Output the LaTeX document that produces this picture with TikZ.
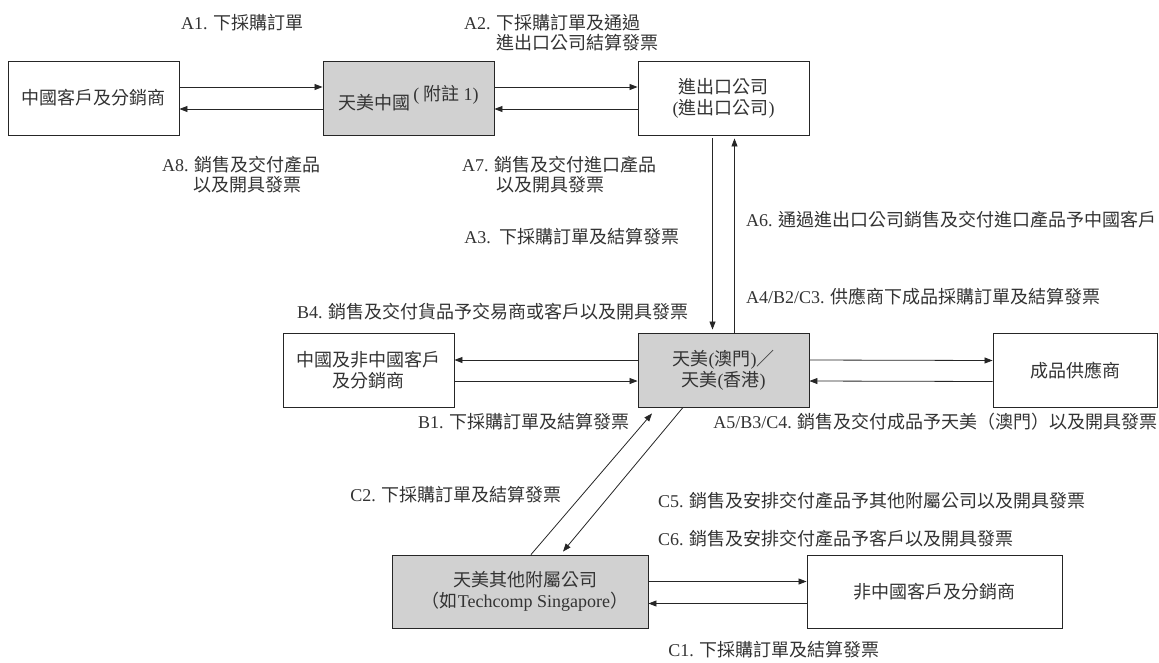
\documentclass[tikz,border=0pt]{standalone}
\usepackage{fontspec}
\setmainfont{Liberation Serif}
\newfontfamily\cjkf{Noto Sans CJK TC}
\usetikzlibrary{arrows.meta}
\newcommand\zh[1]{{\cjkf #1}}
\begin{document}
\begin{tikzpicture}[x=1pt,y=-1pt,
  every node/.style={font=\fontsize{18}{21}\selectfont, text=black!80},
  box/.style={draw=black!85, line width=0.9pt, minimum width=171pt, minimum height=74pt, inner sep=0pt, align=center},
  gbox/.style={box, fill=black!18},
  lab/.style={inner sep=0pt},
  arr/.style={draw=black!85, line width=0.8pt, -{Triangle[length=8pt,width=6pt]}}]
\useasboundingbox (0,0) rectangle (1159,662);
\fill[white] (0,0) rectangle (1159,662);
% boxes
\node[box] (cn) at (93.5,98) {\zh{中國客戶及分銷商}};
\node[gbox] (tc) at (408.5,98) {\zh{天美中國}\,\raisebox{9pt}{(\zh{ 附註 }1)}};
\node[box] (ie) at (723.5,98) {\zh{進出口公司}\\(\zh{進出口公司})};
\node[box] (cc) at (368.5,370) {\zh{中國及非中國客戶}\\\zh{及分銷商}};
\node[gbox] (tm) at (723.5,370) {\zh{天美}(\zh{澳門})\zh{／}\\\zh{天美}(\zh{香港})};
\node[box, minimum width=164pt] (sp) at (1075,370.5) {\zh{成品供應商}};
\node[gbox, minimum width=256pt, minimum height=73pt] (ot) at (520,591.5) {\hspace*{10pt}\zh{天美其他附屬公司}\\\hspace*{10pt}\zh{（如}Techcomp Singapore\zh{）}};
\node[box, minimum width=255pt, minimum height=73pt] (nc) at (934.5,591.5) {\zh{非中國客戶及分銷商}};
% connectors
\draw[arr] ([yshift=11pt]cn.east) -- ([yshift=11pt]tc.west);
\draw[arr] ([yshift=-11pt]tc.west) -- ([yshift=-11pt]cn.east);
\draw[arr] ([yshift=11pt]tc.east) -- ([yshift=11pt]ie.west);
\draw[arr] ([yshift=-11pt]ie.west) -- ([yshift=-11pt]tc.east);
\draw[arr] ([xshift=-11pt,yshift=-3pt]ie.south) -- ([xshift=-11pt,yshift=3pt]tm.north);
\draw[arr] ([xshift=11pt]tm.north) -- ([xshift=11pt,yshift=-3pt]ie.south);
\draw[arr] ([yshift=10pt]tm.west) -- ([yshift=10pt]cc.east);
\draw[arr] ([yshift=-11pt]cc.east) -- ([yshift=-11pt]tm.west);
\draw[arr] ([yshift=10pt]tm.east) -- ([yshift=10pt]sp.west);
\draw[arr] ([yshift=-11pt]sp.west) -- ([yshift=-11pt]tm.east);
\draw[arr] ([xshift=11pt]ot.north) -- ([xshift=-71.5pt,yshift=-6pt]tm.south);
\draw[arr] ([xshift=-40.5pt]tm.south) -- ([xshift=43pt,yshift=3pt]ot.north);
\draw[arr] ([yshift=10pt]ot.east) -- ([yshift=10pt]nc.west);
\draw[arr] ([yshift=-12pt]nc.west) -- ([yshift=-12pt]ot.east);
% labels
\node[lab, anchor=west] (a1) at (181,23) {A1. \zh{下採購訂單}};
\node[lab, anchor=west] (a2a) at (464,23) {A2. \zh{下採購訂單及通過}};
\node[lab, anchor=west] (a2b) at (496,43) {\zh{進出口公司結算發票}};
\node[lab, anchor=west] (a8a) at (162,165) {A8. \zh{銷售及交付產品}};
\node[lab, anchor=west] (a8b) at (193,185) {\zh{以及開具發票}};
\node[lab, anchor=west] (a7a) at (462,165) {A7. \zh{銷售及交付進口產品}};
\node[lab, anchor=west] (a7b) at (496,185) {\zh{以及開具發票}};
\node[lab, anchor=east] (a3) at (680,237) {A3.\ \ \zh{下採購訂單及結算發票}};
\node[lab, anchor=west] (a6) at (746,220) {A6. \zh{通過進出口公司銷售及交付進口產品予中國客戶}};
\node[lab, anchor=west] (a4) at (746,297) {A4/B2/C3. \zh{供應商下成品採購訂單及結算發票}};
\node[lab, anchor=west] (b4) at (297,312) {B4. \zh{銷售及交付貨品予交易商或客戶以及開具發票}};
\node[lab, anchor=west] (b1) at (418,422) {B1. \zh{下採購訂單及結算發票}};
\node[lab, anchor=east] (a5) at (1158,422) {A5/B3/C4. \zh{銷售及交付成品予天美（澳門）以及開具發票}};
\node[lab, anchor=east] (c2) at (562,495) {C2. \zh{下採購訂單及結算發票}};
\node[lab, anchor=west] (c5) at (658,501) {C5. \zh{銷售及安排交付產品予其他附屬公司以及開具發票}};
\node[lab, anchor=west] (c6) at (658,539) {C6. \zh{銷售及安排交付產品予客戶以及開具發票}};
\node[lab, anchor=east] (c1) at (880,650) {C1. \zh{下採購訂單及結算發票}};
\end{tikzpicture}
\end{document}
